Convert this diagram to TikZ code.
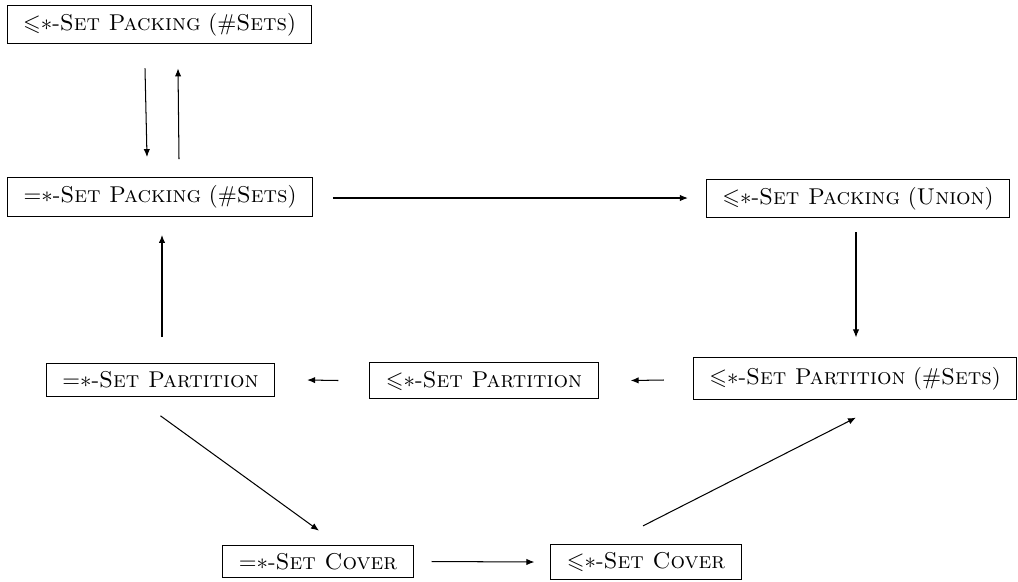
\documentclass[tikz,border=0pt]{standalone}
\usepackage{amssymb}
\usetikzlibrary{arrows.meta}
\tikzset{
  box/.style={draw, line width=0.45pt, inner xsep=7pt, inner ysep=3.5pt},
  arr/.style={-{Latex[length=3.5pt,width=2.8pt]}, line width=0.45pt}
}
\begin{document}
\begin{tikzpicture}[x=0.4375pt,y=-0.4375pt]
\useasboundingbox (0,0) rectangle (1018,581);
\node[box] (N1) at (159.5,24.5) {${\leqslant}{\ast}$-\textsc{Set Packing} (\#\textsc{Sets})};
\node[box] (N2) at (160,197) {${=}{\ast}$-\textsc{Set Packing} (\#\textsc{Sets})};
\node[box] (N3) at (858,198.5) {${\leqslant}{\ast}$-\textsc{Set Packing} (\textsc{Union})};
\node[box] (N4) at (160.5,380) {${=}{\ast}$-\textsc{Set Partition}};
\node[box] (N5) at (484,380.5) {${\leqslant}{\ast}$-\textsc{Set Partition}};
\node[box, minimum height=18pt] (N6) at (855,378.5) {${\leqslant}{\ast}$-\textsc{Set Partition} (\#\textsc{Sets})};
\node[box] (N7) at (318,561.5) {${=}{\ast}$-\textsc{Set Cover}};
\node[box] (N8) at (646,562) {${\leqslant}{\ast}$-\textsc{Set Cover}};

\draw[arr] ([shift={(-14.5,24)}]N1.south) -- ([shift={(-13,-20)}]N2.north);
\draw[arr] ([shift={(19,-18)}]N2.north) -- ([shift={(18.5,24)}]N1.south);
\draw[arr] ([shift={(20,1)}]N2.east) -- ([shift={(-18,-0.5)}]N3.west);
\draw[arr] ([shift={(-2,14)}]N3.south) -- ([shift={(1,-20)}]N6.north);
\draw[arr] ([shift={(-29,1.5)}]N6.west) -- ([shift={(32,0)}]N5.east);
\draw[arr] ([shift={(-31,0)}]N5.west) -- ([shift={(32,0)}]N4.east);
\draw[arr] ([shift={(1.5,-26)}]N4.north) -- ([shift={(2,18)}]N2.south);
\draw[arr] ([shift={(0,19)}]N4.south) -- ([shift={(1,-14)}]N7.north);
\draw[arr] ([shift={(18,0)}]N7.east) -- ([shift={(-16,0)}]N8.west);
\draw[arr] ([shift={(-3,-18)}]N8.north) -- ([shift={(1,18)}]N6.south);
\end{tikzpicture}
\end{document}
